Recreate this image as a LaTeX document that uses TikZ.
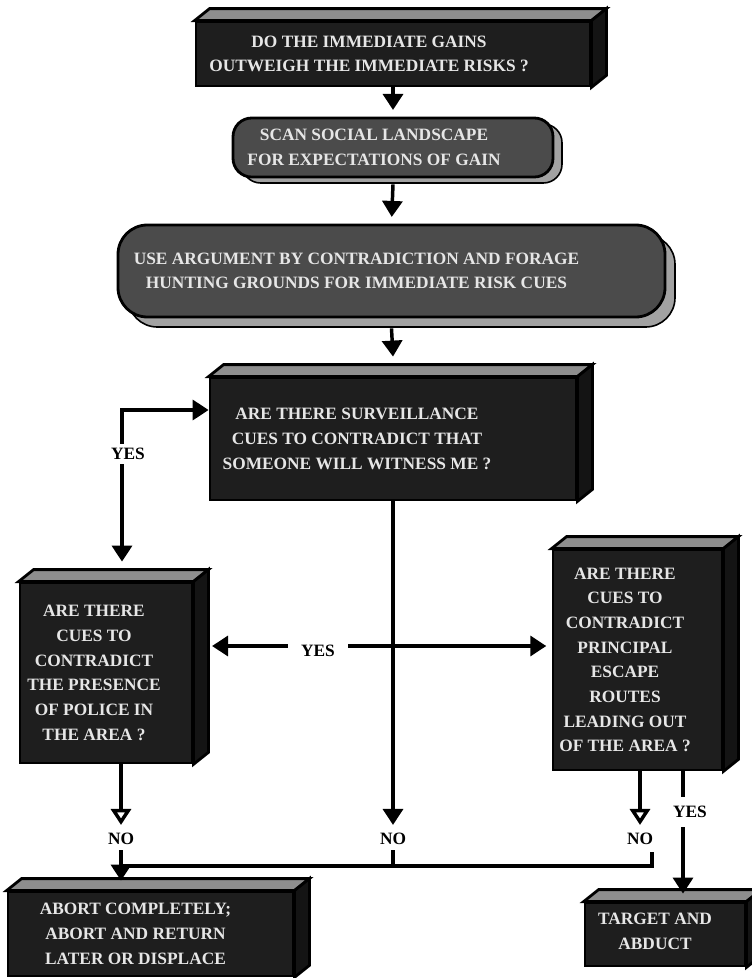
\documentclass[tikz,border=0pt]{standalone}
\usepackage{fontspec}
\setmainfont{Liberation Serif}
\usetikzlibrary{arrows.meta,calc,shadows}
\definecolor{frontgray}{HTML}{1E1E1E}
\definecolor{topgray}{HTML}{8E8E8E}
\definecolor{sidegray}{HTML}{141414}
\definecolor{pillgray}{HTML}{4B4B4B}
\definecolor{shadowgray}{HTML}{A2A2A2}
\definecolor{textgray}{HTML}{E6E6E6}
% top face and right face of a solid box
\newcommand{\boxdepth}[1]{%
  \draw[style=top face] (#1.north west) -- ++(15,-12) -- ($(#1.north east)+(15,-12)$) -- (#1.north east) -- cycle;
  \draw[style=side face] (#1.north east) -- ++(15,-12) -- ($(#1.south east)+(15,-12)$) -- (#1.south east) -- cycle;}
\begin{document}
\begin{tikzpicture}[x=0.75pt,y=-0.75pt,line join=miter,>={Triangle[length=12pt,width=15pt]}]
        % Styles
        \tikzstyle{cube}=[draw=black,line width=2.1pt,fill=frontgray,inner sep=0pt]
        \tikzstyle{pill}=[draw=black,line width=2.1pt,fill=pillgray,inner sep=0pt]
        \tikzstyle{top face}=[draw=black,line width=2.1pt,fill=topgray]
        \tikzstyle{side face}=[draw=black,line width=2.1pt,fill=sidegray]
        \tikzstyle{box text}=[text=textgray,font=\bfseries\fontsize{13}{18.5}\selectfont,align=center,inner sep=0pt]
        \tikzstyle{answer}=[fill=white,font=\bfseries\fontsize{13}{15}\selectfont,inner sep=3pt]
        \tikzstyle{flow}=[line width=2.6pt,->]
        \tikzstyle{open flow}=[line width=2.6pt,-{Triangle[open,length=12pt,width=15pt,fill=white]}]
        \useasboundingbox[fill=white] (0,0) rectangle (751,978);
        %boxes
        \node[cube,minimum width=295.5pt,minimum height=48pt] (gains) at (393,54) {};
        \boxdepth{gains}
        \node[box text] (gains-text) at ($(gains)+(-24,0)$) {DO THE IMMEDIATE GAINS\\OUTWEIGH THE IMMEDIATE RISKS ?};
        \node[pill,rounded corners=14pt,minimum width=240pt,minimum height=44.25pt,
              copy shadow={shadow xshift=6.75pt,shadow yshift=-4.5pt,fill=shadowgray,draw=black,line width=1.2pt}] (scan) at (393,147.5) {};
        \node[box text] (scan-text) at ($(scan)+(-19,0)$) {SCAN SOCIAL LANDSCAPE\\FOR EXPECTATIONS OF GAIN};
        \node[pill,rounded corners=22pt,minimum width=410.25pt,minimum height=69pt,
              copy shadow={shadow xshift=7.5pt,shadow yshift=-7.5pt,fill=shadowgray,draw=black,line width=1.2pt}] (forage) at (391.5,271) {};
        \node[box text] (forage-text) at ($(forage)+(-35,0)$) {USE ARGUMENT BY CONTRADICTION AND FORAGE\\HUNTING GROUNDS FOR IMMEDIATE RISK CUES};
        \node[cube,minimum width=274.5pt,minimum height=91.5pt] (witness) at (393,439) {};
        \boxdepth{witness}
        \node[box text] (witness-text) at ($(witness)+(-36,0)$) {ARE THERE SURVEILLANCE\\CUES TO CONTRADICT THAT\\SOMEONE WILL WITNESS ME ?};
        \node[cube,minimum width=129pt,minimum height=135pt] (police) at (106,673) {};
        \boxdepth{police}
        \node[box text] (police-text) at ($(police)+(-12,0)$) {ARE THERE\\CUES TO\\CONTRADICT\\THE PRESENCE\\OF POLICE IN\\THE AREA ?};
        \node[cube,minimum width=126.75pt,minimum height=165pt] (escape) at (637.5,660) {};
        \boxdepth{escape}
        \node[box text] (escape-text) at ($(escape)+(-12.5,0)$) {ARE THERE\\CUES TO\\CONTRADICT\\PRINCIPAL\\ESCAPE\\ROUTES\\LEADING OUT\\OF THE AREA ?};
        \node[cube,minimum width=213.75pt,minimum height=63pt] (abort) at (150.5,934) {};
        \boxdepth{abort}
        \node[box text] (abort-text) at ($(abort)+(-15,0)$) {ABORT COMPLETELY;\\ABORT AND RETURN\\LATER OR DISPLACE};
        \node[cube,minimum width=120pt,minimum height=47.25pt] (target) at (665,934.5) {};
        \boxdepth{target}
        \node[box text] (target-text) at ($(target)+(-10,-3)$) {TARGET AND\\ABDUCT};
        %main column
        \draw[flow,shorten >=5pt] (gains.south) -- (scan.north);
        \draw[flow,shorten >=5pt] ($(scan.south)+(0,6)$) -- (forage.north);
        \draw[flow] ($(forage.south)+(0,10)$) -- ($(witness.north)+(0,-20)$);
        %yes loop
        \coordinate (loop) at (122,410);
        \draw[flow,<->] ($(loop |- police.north)+(0,-20)$) -- (loop) -- (loop -| witness.west);
        \node[answer] (yes-left) at (128,454) {YES};
        %no labels
        \node[answer,fill=none,inner sep=4pt] (no-left) at (121,839) {NO};
        \node[answer,fill=none,inner sep=4pt] (no-mid) at (393,839) {NO};
        \node[answer,fill=none,inner sep=4pt] (no-right) at (640,839) {NO};
        \draw[flow,shorten >=2pt] (witness.south) -- (no-mid.north);
        \draw[open flow,shorten >=2pt] (no-left |- police.south) -- (no-left.north);
        \draw[open flow,shorten >=2pt] (no-right |- escape.south) -- (no-right.north);
        %yes across
        \coordinate (cross) at (393,646);
        \draw[flow,<->,shorten <=14pt,shorten >=4pt] (police.east |- cross) -- (escape.west |- cross);
        \node[answer,inner xsep=10pt] (yes-mid) at (318,651) {YES};
        %bus to abort
        \coordinate (bus left) at (121,866);
        \coordinate (bus right) at (652,866);
        \draw[line width=2.6pt] ($(bus right)+(0,-14)$) -- (bus right) -- (bus left);
        \draw[line width=2.6pt] (no-mid.south) -- (no-mid.south |- bus left);
        \draw[flow] (no-left.south) -- ($(no-left |- abort.north)+(0,-10)$);
        %yes to target
        \coordinate (escape-yes) at ($(escape.south)+(45.5,0)$);
        \draw[flow] (escape-yes) -- ($(escape-yes |- target.north)+(0,-8)$);
        \node[answer,inner ysep=7pt] (yes-right) at (690,812) {YES};
\end{tikzpicture}
\end{document}
